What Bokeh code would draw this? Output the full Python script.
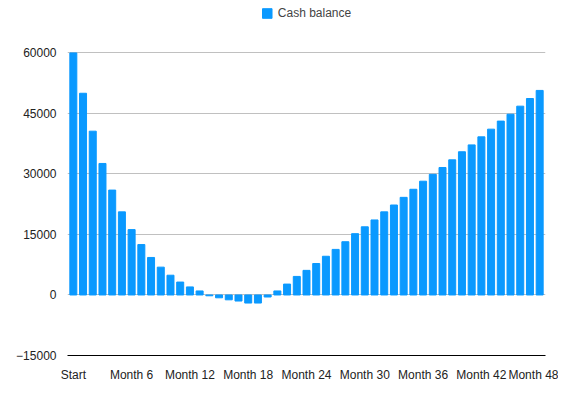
from bokeh.plotting import figure
from bokeh.models import ColumnDataSource, Legend, LegendItem, FixedTicker, Range1d
from bokeh.embed import file_html
from bokeh.resources import INLINE

months = list(range(49))
balance = [60000, 50000, 40600, 32600, 26000, 20600, 16200, 12500, 9300, 6900, 4900,
           3200, 2000, 1000, -200, -700, -1200, -1500, -2000, -2000, -500, 1000, 2700,
           4600, 6100, 7800, 9600, 11300, 13200, 15200, 16900, 18600, 20600, 22300,
           24200, 26200, 28200, 29900, 31600, 33500, 35500, 37200, 39200, 41100, 43100,
           44800, 46800, 48700, 50700]
tick_pos = [0, 6, 12, 18, 24, 30, 36, 42, 48]
tick_labels = ["Start"] + ["Month %d" % m for m in tick_pos[1:]]

src = ColumnDataSource(dict(x=months, top=balance))
p = figure(width=558, height=384, output_backend="svg", toolbar_location=None,
           x_range=Range1d(-0.6, 48.6), y_range=Range1d(-15000, 72000),
           min_border_left=67, min_border_right=13, min_border_top=4, min_border_bottom=10)
r = p.vbar(x="x", top="top", bottom=0, width=0.72, source=src, color="#0a99ff")
p.outline_line_color = None
p.xgrid.grid_line_color = None
p.ygrid.grid_line_color = "#c0c0c0"
p.yaxis.ticker = FixedTicker(ticks=[-15000, 0, 15000, 30000, 45000, 60000])
p.xaxis.ticker = FixedTicker(ticks=tick_pos)
p.xaxis.major_label_overrides = {t: l for t, l in zip(tick_pos, tick_labels)}
for ax in (p.xaxis, p.yaxis):
    ax.major_tick_line_color = None
    ax.minor_tick_line_color = None
    ax.major_label_text_font = "Liberation Sans"
    ax.major_label_text_font_size = "12px"
    ax.major_label_text_color = "#222222"
p.yaxis.axis_line_color = None
p.xaxis.axis_line_color = "black"
p.xaxis.major_label_standoff = 6
leg = Legend(items=[LegendItem(label="Cash balance", renderers=[r])], orientation="horizontal",
             location="top_center", border_line_color=None, background_fill_alpha=0,
             label_text_font="Liberation Sans", label_text_font_size="12px",
             glyph_width=12, glyph_height=12, margin=2, padding=2)
p.add_layout(leg)
open("out.html", "w").write(file_html(p, INLINE))
